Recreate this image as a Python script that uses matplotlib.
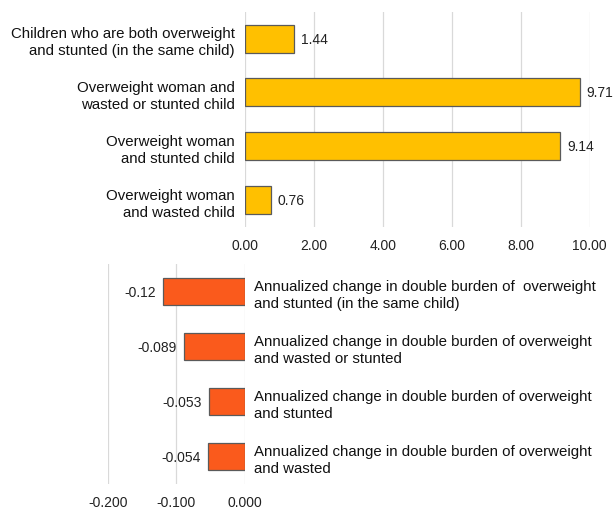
import matplotlib
matplotlib.use("Agg")
import matplotlib.pyplot as plt

plt.rcParams["font.family"] = ["Liberation Sans", "DejaVu Sans"]

# top panel: prevalence of double burden (%)
top_labels = [
    "Children who are both overweight\nand stunted (in the same child)",
    "Overweight woman and\nwasted or stunted child",
    "Overweight woman\nand stunted child",
    "Overweight woman\nand wasted child",
]
top_values = [1.44, 9.71, 9.14, 0.76]
top_ticks = [0, 2, 4, 6, 8, 10]

# bottom panel: annualized change
bot_labels = [
    "Annualized change in double burden of  overweight\nand stunted (in the same child)",
    "Annualized change in double burden of overweight\nand wasted or stunted",
    "Annualized change in double burden of overweight\nand stunted",
    "Annualized change in double burden of overweight\nand wasted",
]
bot_values = [-0.12, -0.089, -0.053, -0.054]
bot_value_text = ["-0.12", "-0.089", "-0.053", "-0.054"]
bot_ticks = [-0.2, -0.1, 0.0]

C_YEL = "#FFC000"
C_ORG = "#FA5A1C"
C_EDGE = "#5A5A5A"
C_GRID = "#D9D9D9"
FS_CAT = 10.8
FS_NUM = 10

fig = plt.figure(figsize=(6.15, 5.1), dpi=100)

# ── top panel ────────────────────────────────────────────────────────────────
ax1 = fig.add_axes([0.398, 0.553, 0.561, 0.422])
y1 = range(len(top_values))
ax1.barh(y1, top_values, height=0.52, color=C_YEL, edgecolor=C_EDGE,
         linewidth=0.9, zorder=3)
ax1.set_xlim(0, 10)
ax1.set_ylim(len(top_values) - 0.5, -0.5)
ax1.set_xticks(top_ticks)
ax1.set_xticklabels([f"{t:.2f}" for t in top_ticks], fontsize=FS_NUM, color="#222222")
ax1.set_yticks(list(y1))
ax1.set_yticklabels(top_labels, fontsize=FS_CAT, multialignment="right",
                    linespacing=1.3, color="#111111")
ax1.tick_params(length=0, pad=7)
ax1.tick_params(axis="x", pad=8)
ax1.grid(axis="x", color=C_GRID, lw=0.9, zorder=0)
for s in ax1.spines.values():
    s.set_visible(False)
for yy, v in zip(y1, top_values):
    ax1.annotate(f"{v:.2f}", (v, yy), xytext=(5, 0), textcoords="offset points",
                 ha="left", va="center", fontsize=FS_NUM, color="#222222",
                 annotation_clip=False)

# ── bottom panel ─────────────────────────────────────────────────────────────
ax2 = fig.add_axes([0.1756, 0.049, 0.2224, 0.431])
y2 = range(len(bot_values))
ax2.barh(y2, bot_values, height=0.48, color=C_ORG, edgecolor=C_EDGE,
         linewidth=0.9, zorder=3)
ax2.set_xlim(-0.2, 0.0)
ax2.set_ylim(len(bot_values) - 0.5, -0.5)
ax2.set_xticks(bot_ticks)
ax2.set_xticklabels([f"{t:.3f}" for t in bot_ticks], fontsize=FS_NUM, color="#222222")
ax2.yaxis.tick_right()
ax2.set_yticks(list(y2))
ax2.set_yticklabels(bot_labels, fontsize=FS_CAT, ha="left", linespacing=1.3,
                    color="#111111")
ax2.tick_params(length=0, pad=7)
ax2.tick_params(axis="x", pad=8)
ax2.grid(axis="x", color=C_GRID, lw=0.9, zorder=0)
for s in ax2.spines.values():
    s.set_visible(False)
for yy, v, t in zip(y2, bot_values, bot_value_text):
    ax2.annotate(t, (v, yy), xytext=(-5, 0), textcoords="offset points",
                 ha="right", va="center", fontsize=FS_NUM, color="#222222",
                 annotation_clip=False)

fig.savefig("out.png", dpi=100)
